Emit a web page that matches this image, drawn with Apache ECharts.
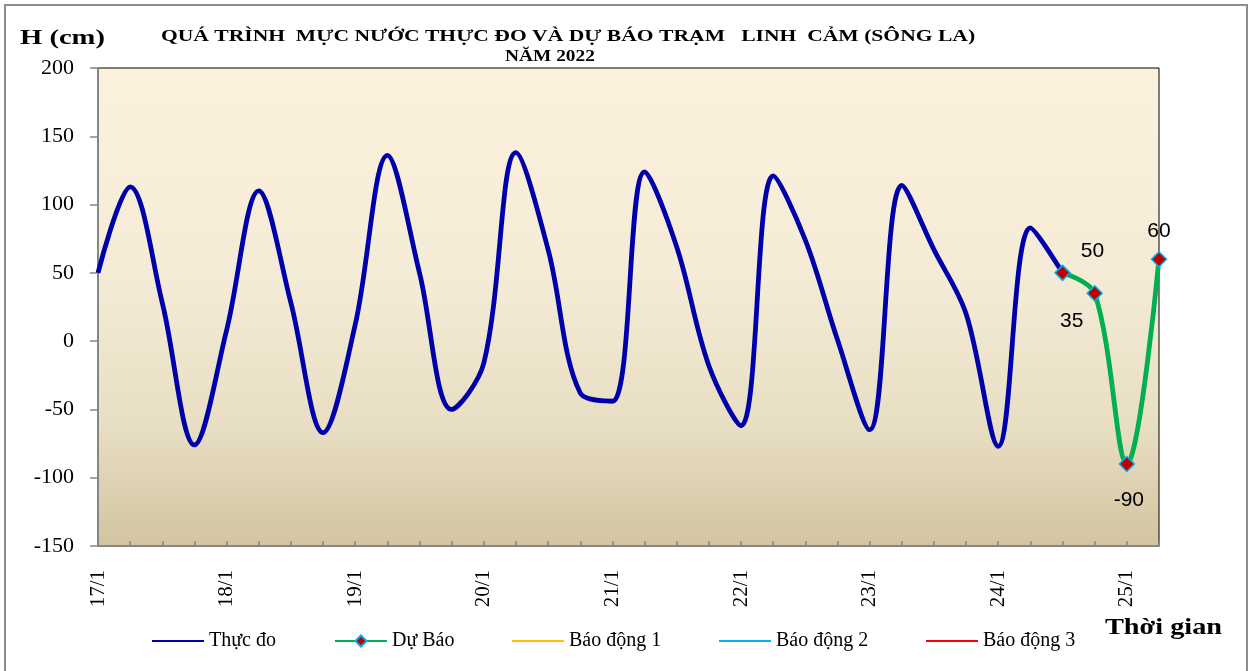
<!DOCTYPE html>
<html>
<head>
<meta charset="utf-8">
<script src="https://cdn.jsdelivr.net/npm/echarts@6/dist/echarts.min.js"></script>
<style>
html,body{margin:0;padding:0;background:#fff;}
#chart{width:1253px;height:671px;}
</style>
</head>
<body>
<div id="chart"></div>
<script>
// ---- Data ----
const dayLabels = ['17/1','18/1','19/1','20/1','21/1','22/1','23/1','24/1','25/1'];
const hoursOfDay = ['00h','06h','12h','18h'];
const totalSteps = 34; // 6-hourly steps from 17/1 00h to 25/1 06h
const measured = [50,113,28,-76,8,110,28,-67,12,136,50,-50,-16,138,67,-38,-44,124,69,-18,-62,121,74,1,-65,114,67,20,-77,83,50];
const forecast = [50,35,-90,60];
const forecastStart = 30;
const yTicks = { min: -150, max: 200, step: 50 };
const seriesNames = ['Thực đo','Dự Báo','Báo động 1','Báo động 2','Báo động 3'];
const alarm1 = [], alarm2 = [], alarm3 = [];

// ---- Build categories ----
const categories = [];
for (let i = 0; i < totalSteps; i++) {
  categories.push(dayLabels[Math.floor(i / 4)] + ' ' + hoursOfDay[i % 4]);
}
const forecastData = categories.map((c, i) => {
  const k = i - forecastStart;
  return (k >= 0 && k < forecast.length) ? forecast[k] : null;
});
const measuredData = categories.map((c, i) => i < measured.length ? measured[i] : null);

// label offsets for forecast points (style)
const fcLabelOffsets = [[30,-22],[-23,28],[2,36],[0,-28]];
const fcData = forecastData.map((v, i) => {
  const k = i - forecastStart;
  if (v === null) return null;
  return { value: v, label: { show: true, position: 'inside', offset: fcLabelOffsets[k] } };
});

const serif = '"Liberation Serif","Times New Roman",serif';
const legendLefts = [147, 329, 507, 714, 921];
const lineIcon = 'path://M0,0 L52,0 L52,2 L0,2 Z';
const legends = seriesNames.map((n, i) => ({
  left: legendLefts[i], top: 626,
  itemWidth: 52, itemHeight: i === 1 ? 14 : 2.5, itemGap: 0,
  textStyle: { fontFamily: serif, fontSize: 20, color: '#000' },
  data: i === 1 ? [n] : [{ name: n, icon: lineIcon }]
}));

const chart = echarts.init(document.getElementById('chart'), null, { renderer: 'canvas' });
chart.setOption({
  animation: false,
  backgroundColor: '#ffffff',
  grid: {
    left: 98, top: 68, right: 94, bottom: 125,
    show: true, borderColor: '#000', borderWidth: 1,
    backgroundColor: {
      type: 'linear', x: 0, y: 0, x2: 0, y2: 1,
      colorStops: [
        { offset: 0, color: '#FCF1DC' },
        { offset: 0.45, color: '#F4EBD6' },
        { offset: 0.75, color: '#E8DEC3' },
        { offset: 1, color: '#D2C4A0' }
      ]
    }
  },
  graphic: [
    { type: 'rect', shape: { x: 5, y: 5, width: 1242, height: 700 }, style: { fill: 'none', stroke: '#8c8c8c', lineWidth: 2 }, silent: true, z: -10 },
    { type: 'text', x: 20, y: 38, scaleX: 1.3, style: { text: 'H (cm)', font: 'bold 22px ' + serif, fill: '#000', verticalAlign: 'middle' } },
    { type: 'text', x: 568, y: 37, scaleX: 1.27, style: { text: 'QUÁ TRÌNH  MỰC NƯỚC THỰC ĐO VÀ DỰ BÁO TRẠM   LINH  CẢM (SÔNG LA)', font: 'bold 17px ' + serif, fill: '#000', align: 'center', verticalAlign: 'middle' } },
    { type: 'text', x: 550, y: 57, scaleX: 1.14, style: { text: 'NĂM 2022', font: 'bold 17px ' + serif, fill: '#000', align: 'center', verticalAlign: 'middle' } },
    { type: 'text', x: 1105, y: 628, scaleX: 1.23, style: { text: 'Thời gian', font: 'bold 23px ' + serif, fill: '#000', verticalAlign: 'middle' } }
  ],
  legend: legends,
  xAxis: {
    type: 'category',
    data: categories,
    boundaryGap: false,
    axisLine: { onZero: false, lineStyle: { color: '#868686', width: 2 } },
    axisTick: { inside: true, length: 5, interval: 0, lineStyle: { color: '#868686', width: 1.5 } },
    axisLabel: {
      interval: 3, rotate: 90, margin: 24,
      fontFamily: serif, fontSize: 21, color: '#000',
      formatter: v => v.split(' ')[0]
    },
    splitLine: { show: false }
  },
  yAxis: {
    type: 'value',
    min: yTicks.min, max: yTicks.max, interval: yTicks.step,
    axisLine: { show: true, lineStyle: { color: '#868686', width: 2 } },
    axisTick: { show: true, length: 8, lineStyle: { color: '#868686', width: 1.5 } },
    axisLabel: { fontFamily: serif, fontSize: 22, color: '#000', margin: 24 },
    splitLine: { show: false }
  },
  series: [
    {
      name: seriesNames[0], type: 'line', data: measuredData,
      smooth: 0.35, showSymbol: false, symbol: 'none',
      lineStyle: { color: '#0000AA', width: 4.8 },
      itemStyle: { color: '#0000AA' }, z: 2
    },
    {
      name: seriesNames[1], type: 'line', data: fcData,
      smooth: 0.35, symbol: 'diamond', symbolSize: 15, showSymbol: true,
      lineStyle: { color: '#00B050', width: 4.8 },
      itemStyle: { color: '#C00000', borderColor: '#00B0F0', borderWidth: 1.5 },
      label: { fontFamily: '"Liberation Sans",Arial,sans-serif', fontSize: 21, color: '#000' },
      z: 3
    },
    { name: seriesNames[2], type: 'line', data: alarm1, symbol: 'none', lineStyle: { color: '#FFC000', width: 2 }, itemStyle: { color: '#FFC000' } },
    { name: seriesNames[3], type: 'line', data: alarm2, symbol: 'none', lineStyle: { color: '#00B0F0', width: 2 }, itemStyle: { color: '#00B0F0' } },
    { name: seriesNames[4], type: 'line', data: alarm3, symbol: 'none', lineStyle: { color: '#FF0000', width: 2 }, itemStyle: { color: '#FF0000' } }
  ]
});
</script>
</body>
</html>
